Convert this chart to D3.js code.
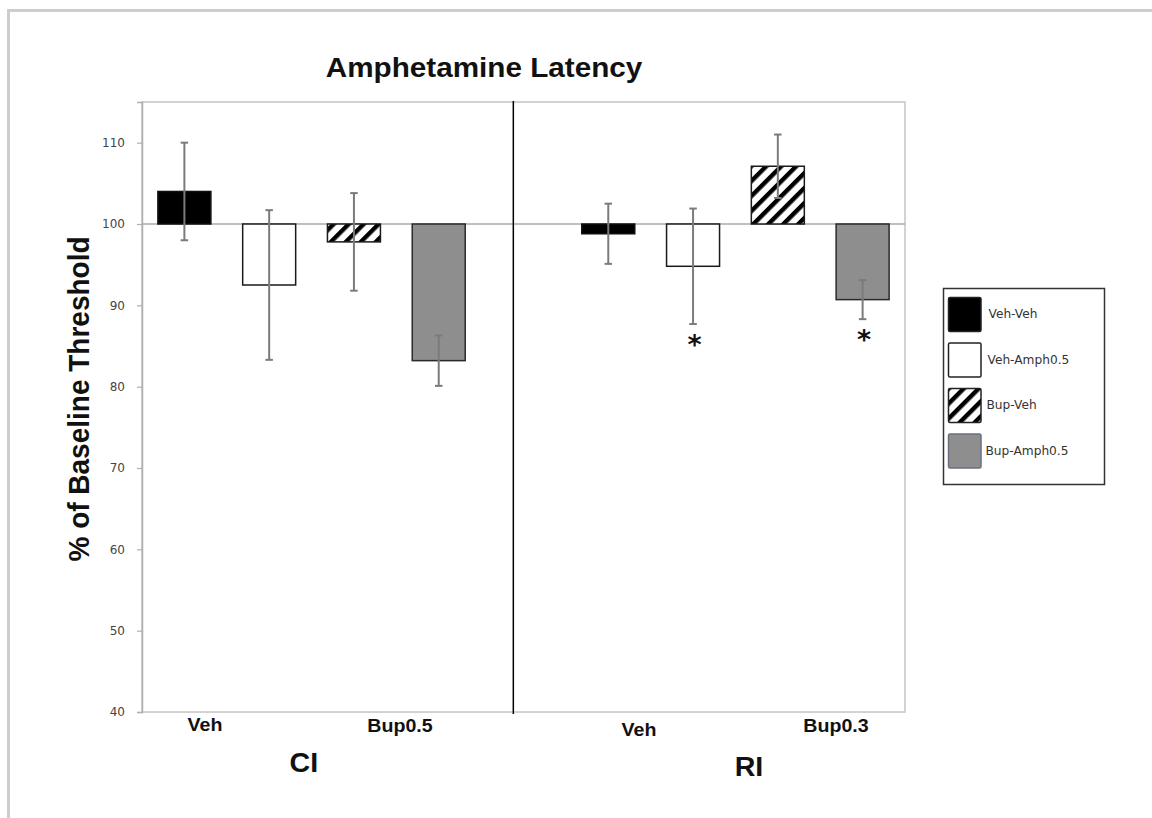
<!DOCTYPE html>
<html>
<head>
<meta charset="utf-8">
<script src="https://cdn.jsdelivr.net/npm/d3@7"></script>
<style>
  html, body { margin: 0; padding: 0; background: #ffffff; }
  svg { display: block; }
</style>
</head>
<body>
<svg id="chart" width="1152" height="818"></svg>
<script>
// ---------------- data ----------------
const chartTitle = "Amphetamine Latency";
const yAxisTitle = "% of Baseline Threshold";
const yTicks = [40, 50, 60, 70, 80, 90, 100, 110];
const yDomain = [40, 115];
const baselineValue = 100;

const groups = ["CI", "RI"];
const seriesNames = ["Veh-Veh", "Veh-Amph0.5", "Bup-Veh", "Bup-Amph0.5"];

const ciMeans  = [104.0, 92.5, 97.8, 83.2];
const ciErrors = [6.0, 9.2, 6.0, 3.1];
const ciStars  = [false, false, false, false];

const riMeans  = [98.8, 94.8, 107.1, 90.7];
const riErrors = [3.7, 7.1, 3.9, 2.4];
const riStars  = [false, true, false, true];

const ciTreatments = ["Veh", "Bup0.5"];
const riTreatments = ["Veh", "Bup0.3"];

// ---------------- layout ----------------
const plot = { left: 142, right: 905, top: 102, bottom: 712 };
const stretch = 1.06;

const svg = d3.select("#chart");

// outer chart border
svg.append("path")
  .attr("d", `M8.5,818 L8.5,10.5 L1152,10.5`)
  .attr("fill", "none").attr("stroke", "#cdcdcd").attr("stroke-width", 3);

// hatch pattern
const defs = svg.append("defs");
const pat = defs.append("pattern")
  .attr("id", "hatch").attr("patternUnits", "userSpaceOnUse")
  .attr("width", 10.6).attr("height", 10.6)
  .attr("patternTransform", "rotate(45)");
pat.append("rect").attr("width", 10.6).attr("height", 10.6).attr("fill", "#fff");
pat.append("rect").attr("x", 0).attr("y", 0).attr("width", 4.4).attr("height", 10.6).attr("fill", "#000");

const fills   = ["#000000", "#ffffff", "url(#hatch)", "#8e8e8e"];
const strokes = ["#111111", "#1a1a1a", "#1a1a1a", "#2a2a2a"];

// scales
const slots = [];
groups.forEach((g, gi) => {
  seriesNames.forEach((s, si) => slots.push(g + "|" + s));
  if (gi === 0) slots.push("gap");
});
const x = d3.scaleBand().domain(slots).range([plot.left, plot.right])
  .paddingInner(0.375).paddingOuter(0.1875);
const slotX = d3.scaleLinear().domain([-0.5, slots.length - 0.5]).range([plot.left, plot.right]);
const y = d3.scaleLinear().domain(yDomain).range([plot.bottom, plot.top]);

// plot frame
svg.append("rect")
  .attr("x", plot.left).attr("y", plot.top)
  .attr("width", plot.right - plot.left).attr("height", plot.bottom - plot.top)
  .attr("fill", "none").attr("stroke", "#c4c4c4").attr("stroke-width", 1.5);

// y axis
const yAxis = d3.axisLeft(y).tickValues(yTicks).tickSize(5).tickPadding(12)
  .tickFormat(d3.format("d"));
const ya = svg.append("g").attr("transform", `translate(${plot.left},0)`).call(yAxis);
ya.select(".domain").attr("stroke", "#b0b0b0").attr("stroke-width", 1.5);
ya.selectAll(".tick line").attr("stroke", "#b0b0b0").attr("stroke-width", 1.2);
ya.selectAll(".tick text")
  .attr("font-family", "DejaVu Sans, sans-serif").attr("font-size", 12)
  .attr("fill", "#444");

// baseline (category axis at 100)
svg.append("line")
  .attr("x1", plot.left).attr("x2", plot.right)
  .attr("y1", y(baselineValue)).attr("y2", y(baselineValue))
  .attr("stroke", "#ababab").attr("stroke-width", 1.5);

// divider
const dividerSlot = 3.88;
svg.append("line")
  .attr("x1", slotX(dividerSlot)).attr("x2", slotX(dividerSlot))
  .attr("y1", plot.top - 1).attr("y2", plot.bottom + 2)
  .attr("stroke", "#000").attr("stroke-width", 1.5);

// build bar records
const bars = [];
[[ciMeans, ciErrors, ciStars], [riMeans, riErrors, riStars]].forEach((arr, gi) => {
  const [m, e, st] = arr;
  seriesNames.forEach((s, si) => {
    bars.push({ key: groups[gi] + "|" + s, si, mean: m[si], err: e[si], star: st[si] });
  });
});

const barG = svg.append("g");
barG.selectAll("rect").data(bars).join("rect")
  .attr("x", d => x(d.key))
  .attr("width", x.bandwidth())
  .attr("y", d => y(Math.max(d.mean, baselineValue)))
  .attr("height", d => Math.abs(y(d.mean) - y(baselineValue)))
  .attr("fill", d => fills[d.si])
  .attr("stroke", d => strokes[d.si])
  .attr("stroke-width", 1.5);

// error bars
const capW = 7.5;
const errG = svg.append("g").attr("stroke", "#7b7b7b").attr("stroke-width", 2).attr("fill", "none");
bars.forEach(d => {
  const cx = x(d.key) + x.bandwidth() / 2;
  errG.append("line").attr("x1", cx).attr("x2", cx)
    .attr("y1", y(d.mean + d.err)).attr("y2", y(d.mean - d.err));
  [d.mean + d.err, d.mean - d.err].forEach(v => {
    errG.append("line").attr("x1", cx - capW / 2).attr("x2", cx + capW / 2)
      .attr("y1", y(v)).attr("y2", y(v));
  });
});

// significance stars
svg.append("g").selectAll("text").data(bars.filter(d => d.star)).join("text")
  .attr("x", d => x(d.key) + x.bandwidth() / 2 + 1.5)
  .attr("y", d => y(d.mean - d.err) + 30)
  .attr("text-anchor", "middle")
  .attr("font-family", "DejaVu Sans, sans-serif").attr("font-weight", "bold")
  .attr("font-size", 27).attr("fill", "#111")
  .text("*");

// stretched text helper
function label(txt, px, py, size, opts = {}) {
  const g = svg.append("g")
    .attr("transform", `translate(${px},${py}) scale(${stretch},1)` + (opts.rotate ? ` rotate(${opts.rotate})` : ""));
  g.append("text")
    .attr("text-anchor", opts.anchor || "middle")
    .attr("dominant-baseline", opts.baseline || "auto")
    .attr("font-family", opts.family || "Liberation Sans, Arial, sans-serif")
    .attr("font-weight", opts.weight || "bold")
    .attr("font-size", size)
    .attr("fill", opts.fill || "#111")
    .text(txt);
}

// title
label(chartTitle, 484, 76.7, 28);
// y title
label(yAxisTitle, 89, 399, 28, { rotate: -90 });

// treatment labels
const ciTreatSlots = [0.243, 2.543];
const riTreatSlots = [5.362, 7.686];
const treatBaselines = [[730.7, 732], [735.7, 732.3]];
ciTreatments.forEach((t, i) => label(t, slotX(ciTreatSlots[i]), treatBaselines[0][i], 18.5));
riTreatments.forEach((t, i) => label(t, slotX(riTreatSlots[i]), treatBaselines[1][i], 18.5));

// group labels
const groupSlots = [1.41, 6.66];
const groupBaselines = [771.7, 775.5];
groups.forEach((g, i) => label(g, slotX(groupSlots[i]), groupBaselines[i], 27));

// legend
const lg = svg.append("g");
lg.append("rect").attr("x", 943.5).attr("y", 288.5).attr("width", 161).attr("height", 196)
  .attr("fill", "#fff").attr("stroke", "#333").attr("stroke-width", 1.5);
const legStep = 45.5;
seriesNames.forEach((s, i) => {
  const top = 297.5 + i * legStep;
  lg.append("rect").attr("x", 948.5).attr("y", top).attr("width", 32.5).attr("height", 34)
    .attr("rx", 1.5)
    .attr("fill", fills[i]).attr("stroke", i === 3 ? "#6b7080" : "#222").attr("stroke-width", 1.5);
  label(s, 988.5 - i * 1, top + 17, 11.5, {
    anchor: "start", baseline: "central", family: "DejaVu Sans, sans-serif",
    weight: "normal", fill: "#333"
  });
});
</script>
</body>
</html>
